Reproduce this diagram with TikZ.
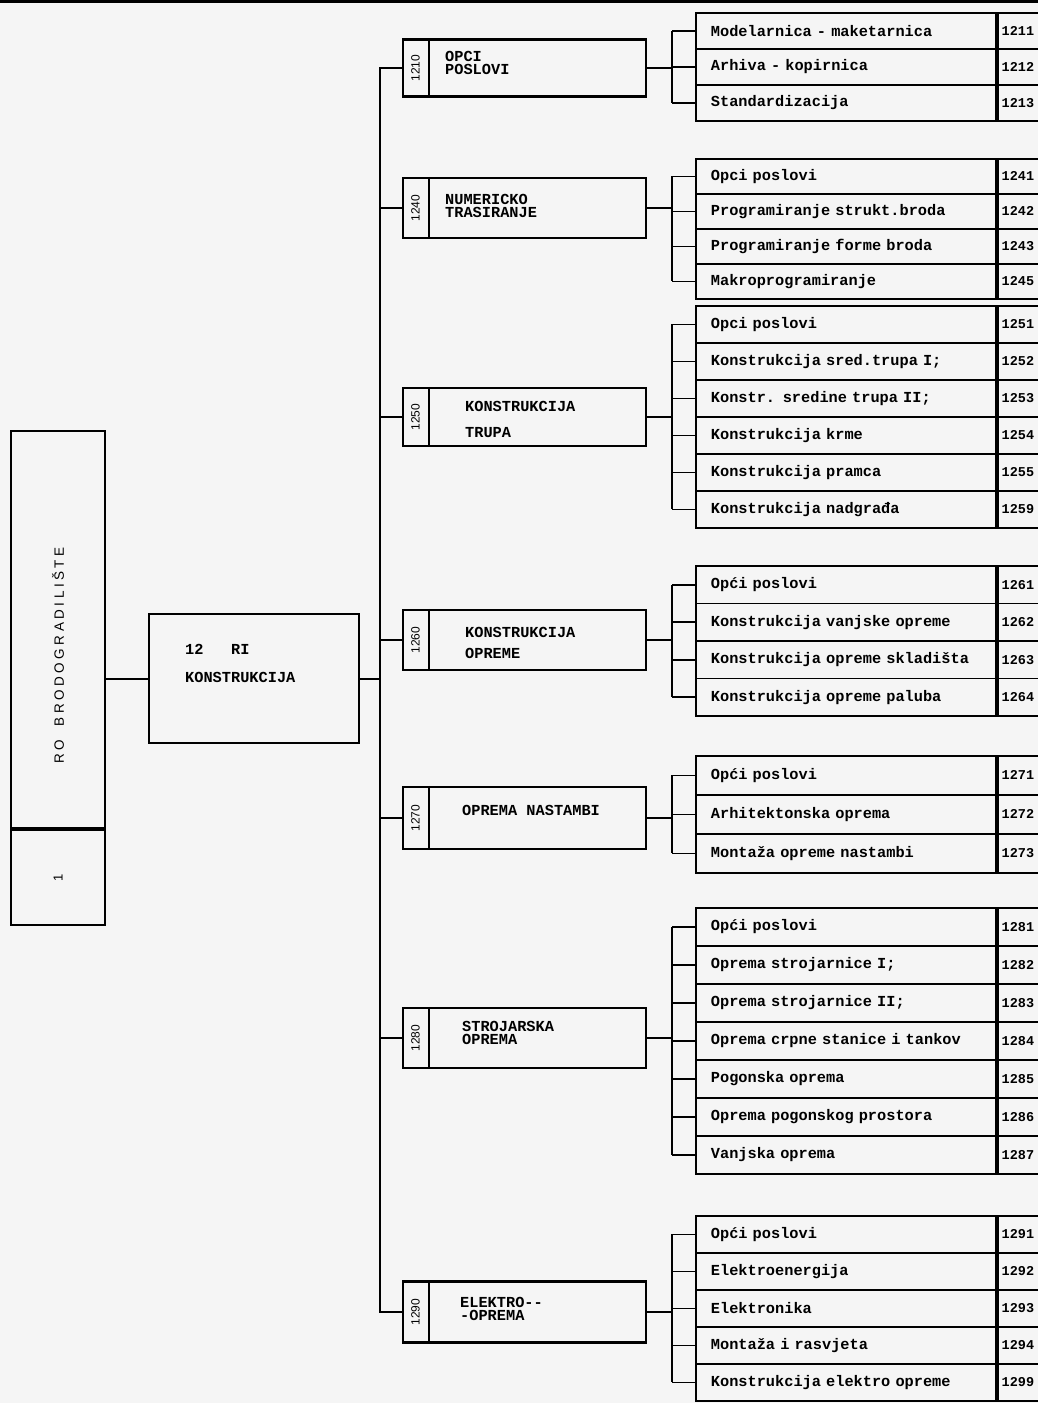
\documentclass[tikz,border=0pt]{standalone}
\usepackage{fontspec}
\newfontfamily\typefont{Liberation Mono}
\newfontfamily\headfont[LetterSpace=26]{Liberation Sans}
\newfontfamily\tagfont{Liberation Sans}
\usetikzlibrary{positioning}

\tikzset{
  box/.style={draw, line width=2.2pt, inner sep=0pt},
  wire/.style={line width=1.8pt},
  rowbox/.style={draw, line width=1.8pt, anchor=north west, minimum height=#1, text width=270pt, inner xsep=15pt, inner ysep=0pt, align=left, font=\typefont\bfseries\fontsize{15.3}{16}\selectfont},
  numbox/.style={draw, line width=1.8pt, minimum height=#1, text width=57pt, inner xsep=4pt, inner ysep=0pt, align=left, font=\typefont\bfseries\fontsize{13.5}{14}\selectfont},
  seclabel/.style={anchor=west, align=left, inner sep=0pt, font=\typefont\bfseries\fontsize{15.3}{#1}\selectfont},
  sectag/.style={rotate=90, inner sep=0pt, font=\tagfont\fontsize{12}{12}\selectfont},
}

\begin{document}
\begin{tikzpicture}[x=1pt, y=-1pt]
\fill[black!4] (0,0) rectangle (1038,1403);
\useasboundingbox (0,0) rectangle (1038,1403);
\draw[line width=2.5pt] (0,1.5) -- (1038,1.5);

% shipyard and department
\node[box, minimum width=94pt, minimum height=397pt, anchor=north west] (ro) at (10,430) {};
\node[box, minimum width=94pt, minimum height=95pt, below=0pt of ro] (one) {};
\node[rotate=90, font=\headfont\fontsize{13.5}{14}\selectfont] at ([yshift=-26pt]ro.center) {RO\hspace{14pt}BRODOGRADILIŠTE};
\node[rotate=90, font=\tagfont\fontsize{13}{13}\selectfont] at (one.center) {1};

\node[box, minimum width=210pt, minimum height=129pt, anchor=north west] (ri) at (148,613) {};
\node[anchor=north west, align=left, inner sep=0pt, font=\typefont\bfseries\fontsize{15.3}{28}\selectfont] at (185,644) {12\ \ \ RI\\KONSTRUKCIJA};
\draw[wire] (ri.west) -- (ri.west -| ro.east);

% sections
\foreach \n/\sy/\sh/\dx/\dy/\sk/\lab in {
  1210/68/57/43/5/13.5/{OPCI\\POSLOVI},
  1240/208/60/43/2/13.5/{NUMERICKO\\TRASIRANJE},
  1250/417/58/63/-2/26/{KONSTRUKCIJA\\TRUPA},
  1260/640/60/63/-3/21/{KONSTRUKCIJA\\OPREME},
  1270/818/62/60/8/16/{OPREMA NASTAMBI},
  1280/1038/60/60/5/13.5/{STROJARSKA\\OPREMA},
  1290/1312/61/58/3/13.5/{ELEKTRO--\\-OPREMA}}
{
  \node[box, minimum width=243pt, minimum height=\sh pt, anchor=west] (s\n) at (402,\sy) {};
  \draw[wire] ([xshift=27pt]s\n.north west) -- ([xshift=27pt]s\n.south west);
  \node[sectag] at ([xshift=13.5pt]s\n.west) {\n};
  \node[seclabel=\sk] at ([xshift=\dx pt, yshift=\dy pt]s\n.west) {\lab};
}

\coordinate (trunk) at ([xshift=-22pt]s1210.west);
\draw[wire] (s1210.west) -- (trunk) |- (s1290.west);
\foreach \n in {1240,1250,1260,1270,1280}
  \draw[wire] (s\n.west) -- (s\n.west -| trunk);
\draw[wire] (ri.east) -- (ri.east -| trunk);

% units 1210
\foreach \t/\m [count=\i] in {Modelarnica - maketarnica/1211, Arhiva - kopirnica/1212, Standardizacija/1213}
{
  \node[rowbox=36pt] (r1210-\i) at (695,{12+(\i-1)*36}) {\t};
  \node[numbox=36pt, right=0pt of r1210-\i] (n1210-\i) {\m};
  \draw[wire] (r1210-\i.west) -- ++(-23,0);
}
\coordinate (b1210) at ([xshift=-23pt]r1210-1.west);
\draw[wire] (b1210) -- ([xshift=-23pt]r1210-3.west);
\draw[wire] (s1210.east) -- (s1210.east -| b1210);

% units 1240
\foreach \t/\m [count=\i] in {Opci poslovi/1241, Programiranje strukt.broda/1242, Programiranje forme broda/1243, Makroprogramiranje/1245}
{
  \node[rowbox=35pt] (r1240-\i) at (695,{158+(\i-1)*35}) {\t};
  \node[numbox=35pt, right=0pt of r1240-\i] (n1240-\i) {\m};
  \draw[wire] (r1240-\i.west) -- ++(-23,0);
}
\coordinate (b1240) at ([xshift=-23pt]r1240-1.west);
\draw[wire] (b1240) -- ([xshift=-23pt]r1240-4.west);
\draw[wire] (s1240.east) -- (s1240.east -| b1240);

% units 1250
\foreach \t/\m [count=\i] in {Opci poslovi/1251, Konstrukcija sred.trupa I;/1252, Konstr. sredine trupa II;/1253, Konstrukcija krme/1254, Konstrukcija pramca/1255, Konstrukcija nadgrađa/1259}
{
  \node[rowbox=37pt] (r1250-\i) at (695,{305+(\i-1)*37}) {\t};
  \node[numbox=37pt, right=0pt of r1250-\i] (n1250-\i) {\m};
  \draw[wire] (r1250-\i.west) -- ++(-23,0);
}
\coordinate (b1250) at ([xshift=-23pt]r1250-1.west);
\draw[wire] (b1250) -- ([xshift=-23pt]r1250-6.west);
\draw[wire] (s1250.east) -- (s1250.east -| b1250);

% units 1260
\foreach \t/\m [count=\i] in {Opći poslovi/1261, Konstrukcija vanjske opreme/1262, Konstrukcija opreme skladišta/1263, Konstrukcija opreme paluba/1264}
{
  \node[rowbox=37.5pt] (r1260-\i) at (695,{565+(\i-1)*37.5}) {\t};
  \node[numbox=37.5pt, right=0pt of r1260-\i] (n1260-\i) {\m};
  \draw[wire] (r1260-\i.west) -- ++(-23,0);
}
\coordinate (b1260) at ([xshift=-23pt]r1260-1.west);
\draw[wire] (b1260) -- ([xshift=-23pt]r1260-4.west);
\draw[wire] (s1260.east) -- (s1260.east -| b1260);

% units 1270
\foreach \t/\m [count=\i] in {Opći poslovi/1271, Arhitektonska oprema/1272, Montaža opreme nastambi/1273}
{
  \node[rowbox=39pt] (r1270-\i) at (695,{755+(\i-1)*39}) {\t};
  \node[numbox=39pt, right=0pt of r1270-\i] (n1270-\i) {\m};
  \draw[wire] (r1270-\i.west) -- ++(-23,0);
}
\coordinate (b1270) at ([xshift=-23pt]r1270-1.west);
\draw[wire] (b1270) -- ([xshift=-23pt]r1270-3.west);
\draw[wire] (s1270.east) -- (s1270.east -| b1270);

% units 1280
\foreach \t/\m [count=\i] in {Opći poslovi/1281, Oprema strojarnice I;/1282, Oprema strojarnice II;/1283, Oprema crpne stanice i tankov/1284, Pogonska oprema/1285, Oprema pogonskog prostora/1286, Vanjska oprema/1287}
{
  \node[rowbox=38pt] (r1280-\i) at (695,{907+(\i-1)*38}) {\t};
  \node[numbox=38pt, right=0pt of r1280-\i] (n1280-\i) {\m};
  \draw[wire] (r1280-\i.west) -- ++(-23,0);
}
\coordinate (b1280) at ([xshift=-23pt]r1280-1.west);
\draw[wire] (b1280) -- ([xshift=-23pt]r1280-7.west);
\draw[wire] (s1280.east) -- (s1280.east -| b1280);

% units 1290
\foreach \t/\m [count=\i] in {Opći poslovi/1291, Elektroenergija/1292, Elektronika/1293, Montaža i rasvjeta/1294, Konstrukcija elektro opreme/1299}
{
  \node[rowbox=37pt] (r1290-\i) at (695,{1215+(\i-1)*37}) {\t};
  \node[numbox=37pt, right=0pt of r1290-\i] (n1290-\i) {\m};
  \draw[wire] (r1290-\i.west) -- ++(-23,0);
}
\coordinate (b1290) at ([xshift=-23pt]r1290-1.west);
\draw[wire] (b1290) -- ([xshift=-23pt]r1290-5.west);
\draw[wire] (s1290.east) -- (s1290.east -| b1290);
\end{tikzpicture}
\end{document}
